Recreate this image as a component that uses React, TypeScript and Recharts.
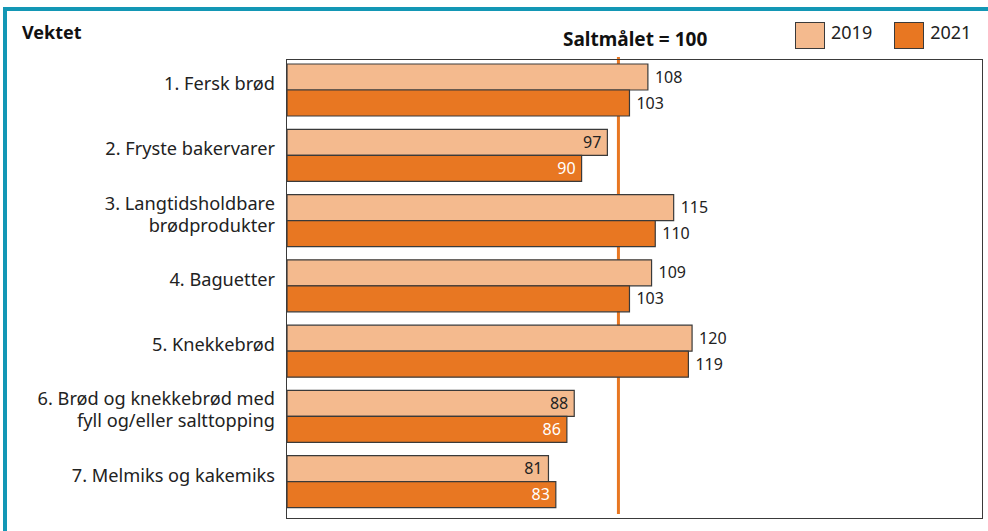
import { BarChart, Bar, XAxis, YAxis, ReferenceLine, LabelList } from 'recharts';

const categories = [
  '1. Fersk brød',
  '2. Fryste bakervarer',
  '3. Langtidsholdbare\nbrødprodukter',
  '4. Baguetter',
  '5. Knekkebrød',
  '6. Brød og knekkebrød med\nfyll og/eller salttopping',
  '7. Melmiks og kakemiks',
];
const values2019 = [108, 97, 115, 109, 120, 88, 81];
const values2021 = [103, 90, 110, 103, 119, 86, 83];
const seriesNames = ['2019', '2021'];
const saltTarget = 100;

const LIGHT = '#F4BA8E';
const DARK = '#E87722';
const EDGE = '#3a3a3a';
const FONT = '"Noto Sans", sans-serif';

const data = categories.map((name, i) => ({ name, y2019: values2019[i], y2021: values2021[i] }));

function CategoryTick(props: any) {
  const { x, y, payload } = props;
  const lines = String(payload.value).split('\n');
  const cy = y - 6;
  const lh = 22;
  const start = cy - ((lines.length - 1) * lh) / 2;
  const tx = x - 4;
  return (
    <text x={tx} y={start} textAnchor="end" fontFamily={FONT} fontSize={18.2} fill="#222">
      {lines.map((l, i) => (
        <tspan key={i} x={tx} y={start + i * lh} dy="0.35em">
          {l}
        </tspan>
      ))}
    </text>
  );
}

function makeLabel(insideColor: string) {
  return (props: any) => {
    const { x, y, width, height, value } = props;
    const outside = value >= saltTarget;
    const tx = outside ? x + width + 7 : x + width - 6;
    return (
      <text
        x={tx}
        y={y + height / 2}
        dy="0.35em"
        textAnchor={outside ? 'start' : 'end'}
        fontFamily={FONT}
        fontSize={16}
        fill={outside ? '#222' : insideColor}
      >
        {value}
      </text>
    );
  };
}

export default function App() {
  const colors = [LIGHT, DARK];
  return (
    <div style={{ position: 'fixed', left: 0, top: 0, width: 988, height: 531, background: '#fff', overflow: 'hidden' }}>
      <div
        style={{
          position: 'absolute',
          left: 3,
          top: 7,
          right: 0,
          bottom: 0,
          borderTop: '4.5px solid #1397B5',
          borderLeft: '4px solid #1397B5',
        }}
      />
      <div style={{ position: 'absolute', left: 22, top: 20, fontFamily: FONT, fontSize: 18, fontWeight: 700, color: '#111' }}>
        Vektet
      </div>
      <div style={{ position: 'absolute', left: 563, top: 26, fontFamily: FONT, fontSize: 19, fontWeight: 700, color: '#111' }}>
        Saltmålet = 100
      </div>
      <div
        style={{
          position: 'absolute',
          left: 795,
          top: 22,
          display: 'flex',
          alignItems: 'flex-start',
          fontFamily: FONT,
          fontSize: 18,
          color: '#222',
        }}
      >
        {seriesNames.map((n, i) => (
          <div key={n} style={{ display: 'flex', alignItems: 'flex-start', marginRight: 22 }}>
            <div style={{ width: 30, height: 27, background: colors[i], border: `1.5px solid ${EDGE}`, boxSizing: 'border-box', marginRight: 6 }} />
            <span style={{ lineHeight: '20px' }}>{n}</span>
          </div>
        ))}
      </div>
      <BarChart
        width={988}
        height={531}
        data={data}
        layout="vertical"
        margin={{ top: 57, right: 5, bottom: 17, left: 0 }}
        barGap={0}
        style={{ position: 'absolute', left: 0, top: 0 }}
      >
        <XAxis type="number" domain={[10, 199]} hide allowDataOverflow />
        <YAxis
          type="category"
          dataKey="name"
          width={287}
          axisLine={false}
          tickLine={false}
          interval={0}
          tick={<CategoryTick />}
        />
        <ReferenceLine x={saltTarget} stroke={DARK} strokeWidth={3} zIndex={100} />
        <Bar dataKey="y2019" name="2019" fill={LIGHT} stroke={EDGE} strokeWidth={1.2} barSize={26} isAnimationActive={false}>
          <LabelList dataKey="y2019" content={makeLabel('#222')} />
        </Bar>
        <Bar dataKey="y2021" name="2021" fill={DARK} stroke={EDGE} strokeWidth={1.2} barSize={26} isAnimationActive={false}>
          <LabelList dataKey="y2021" content={makeLabel('#fff')} />
        </Bar>
      </BarChart>
      <div
        style={{
          position: 'absolute',
          left: 286,
          top: 59,
          width: 697,
          height: 460,
          border: `1.5px solid ${EDGE}`,
          boxSizing: 'border-box',
          pointerEvents: 'none',
        }}
      />
    </div>
  );
}
